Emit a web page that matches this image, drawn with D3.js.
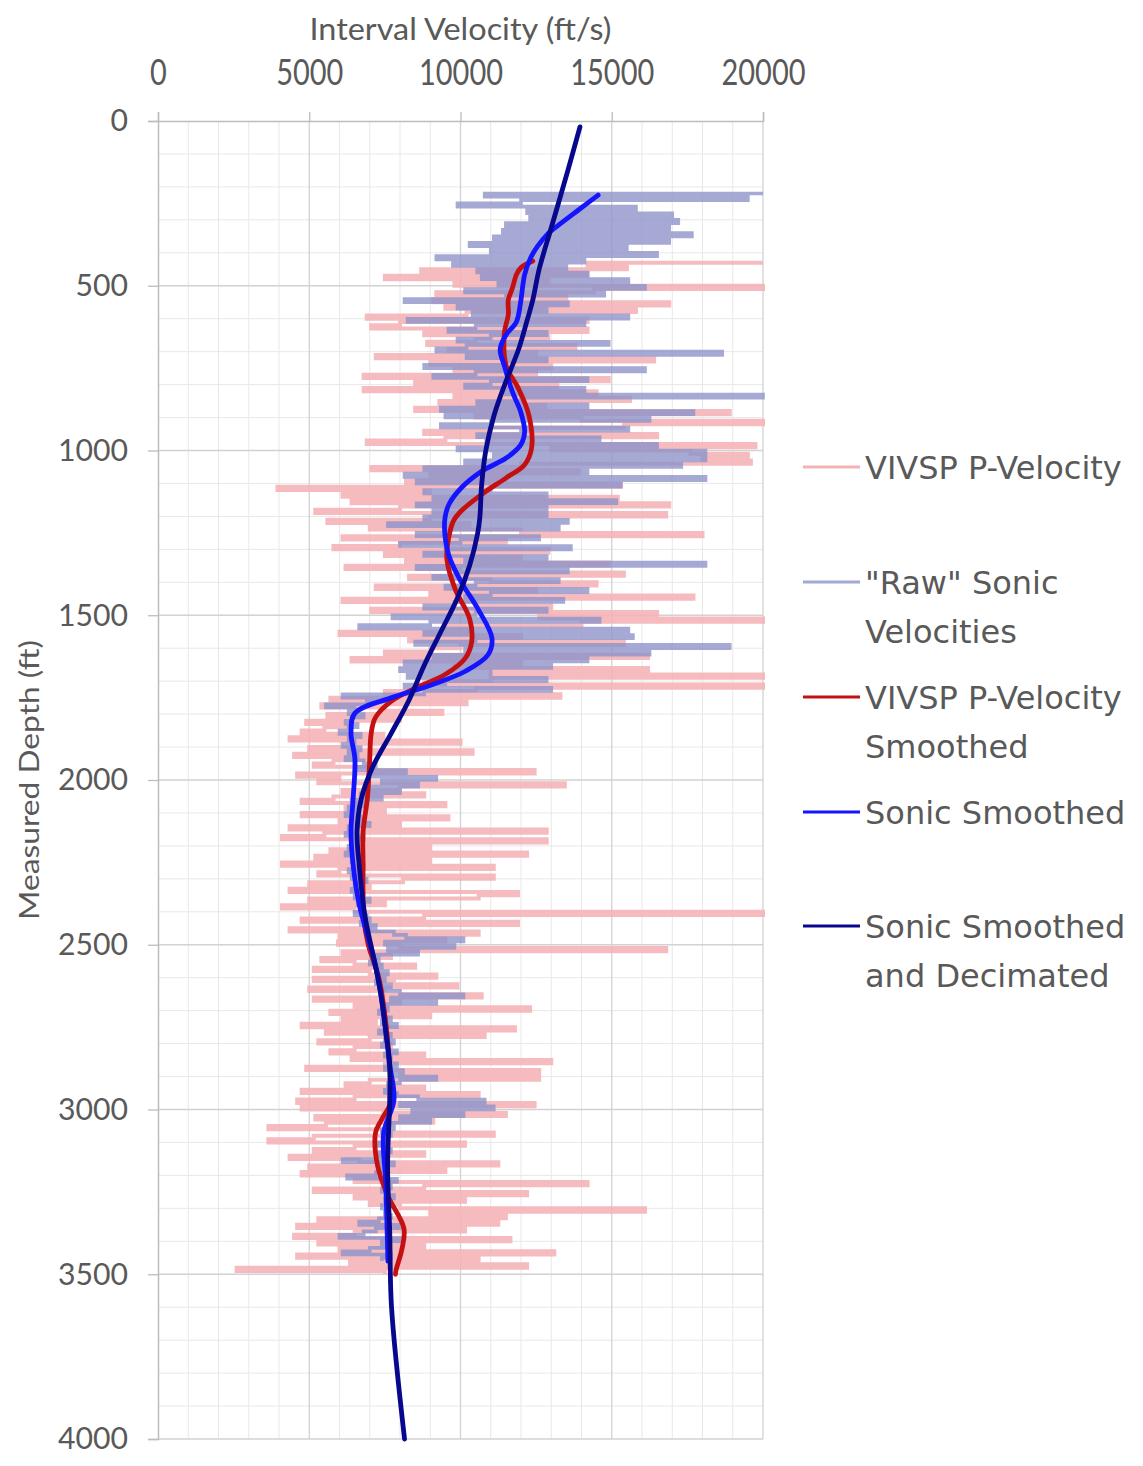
<!DOCTYPE html>
<html>
<head>
<meta charset="utf-8">
<script src="https://cdn.jsdelivr.net/npm/d3@7"></script>
<style>
  body { margin: 0; background: #ffffff; }
  svg { display: block; }
</style>
</head>
<body>
<svg id="chart" width="1143" height="1466"></svg>
<script>
// ---- axis ticks ----
const velocityTicks = [0, 5000, 10000, 15000, 20000];
const depthTicks = [0, 500, 1000, 1500, 2000, 2500, 3000, 3500, 4000];

// ---- raw logs: regularly sampled every 10 ft ----
const sampleStep = 10;
const vivspStartDepth = 430;
const vivspVelocity = [
  20000, 14200, 15500, 8700, 14200, 7500, 12900, 9800, 20000, 14400,
  9200, 13500, 9100, 16900, 9500, 15800, 10200, 6900, 14200, 8000,
  7050, 14200, 8800, 12900, 10500, 8900, 13800, 9600, 12500, 7200,
  16400, 9000, 13000, 9800, 12500, 6800, 14900, 8500, 13200, 6800,
  14500, 9800, 15600, 9300, 12800, 8500, 18900, 10500, 14000, 20000,
  15400, 11000, 8800, 16500, 9500, 6900, 19750, 13000, 17600, 19500,
  18000, 19600, 12000, 7050, 13900, 9000, 11500, 8200, 15300, 3950,
  9000, 6100, 15200, 6400, 16900, 8000, 5200, 16800, 9000, 5600,
  10300, 7000, 12000, 18000, 6100, 11500, 8000, 5800, 12900, 7500,
  12000, 8200, 14900, 6200, 10000, 15400, 8300, 11000, 14500, 7200,
  12500, 9000, 17700, 6100, 10500, 13000, 7050, 16500, 12600, 20000,
  14000, 9500, 10400, 6000, 12000, 8300, 15400, 10000, 9000, 7500,
  16200, 6400, 12000, 9800, 16200, 11000, 20000, 11000, 8800, 20000,
  10500, 7500, 13300, 5700, 10200, 5400, 7500, 9400, 5600, 8000,
  4900, 6400, 5500, 4750, 7450, 4350, 10000, 6500, 5000, 10400,
  4500, 6900, 5800, 5150, 7050, 12450, 4600, 6000, 5300, 13450,
  8000, 6100, 8800, 5800, 4750, 9500, 6200, 7500, 4750, 9600,
  6000, 8000, 4350, 12850, 5500, 4100, 12850, 6500, 9000, 5700,
  12200, 5200, 9000, 4100, 11100, 6000, 5300, 11100, 8100, 5000,
  7000, 4350, 11900, 10600, 5000, 7500, 4100, 6500, 20000, 8800,
  4750, 11900, 7000, 4350, 10600, 6000, 9500, 5950, 8000, 16800,
  6100, 7700, 5400, 6500, 8500, 5150, 7000, 9200, 5150, 7800,
  9900, 5000, 7500, 10700, 5150, 8000, 6500, 12300, 5700, 9000,
  6100, 7200, 4750, 11800, 5550, 10800, 7000, 5300, 7700, 6500,
  5700, 8800, 6400, 13000, 7500, 4900, 12600, 8000, 12600, 7000,
  6200, 8800, 4750, 10600, 6500, 4600, 12450, 4750, 7450, 11500,
  5200, 9100, 5550, 3650, 7450, 11100, 5150, 3650, 10150, 6500,
  5150, 8800, 4350, 6650, 11250, 5000, 9500, 4750, 7500, 6500,
  14200, 8800, 5150, 12200, 6500, 10150, 7000, 8000, 16100, 9000,
  11500, 5300, 11250, 4600, 10150, 6500, 4500, 11650, 5300, 8800,
  6000, 13100, 4600, 10600, 6350, 12200, 2600, 7500
];

const sonicStartDepth = 220;
const sonicVelocity = [
  20000, 10800, 19500, 12000, 9900, 15800, 12200, 17000, 12300, 17200,
  11500, 16900, 11400, 17650, 11100, 16900, 10300, 15500, 11000, 16500,
  9200, 14100, 9750, 13500, 10550, 14200, 10700, 15550, 11250, 16100,
  10150, 14750, 11500, 8150, 13550, 9900, 12850, 10400, 15550, 8250,
  14100, 10500, 9600, 12850, 11000, 9900, 14900, 10200, 9200, 18650,
  10200, 12850, 11500, 8800, 16100, 10500, 9100, 14200, 11000, 10150,
  14100, 11500, 20000, 12000, 10550, 14200, 9350, 17700, 9500, 16250,
  11000, 9350, 15550, 12000, 10550, 14600, 10850, 16500, 9900, 18100,
  11100, 18100, 10150, 17300, 8800, 14200, 8150, 18100, 8550, 15300,
  11000, 8800, 12850, 9100, 15150, 8550, 12850, 9100, 12850, 8800,
  13550, 7600, 13250, 9500, 8550, 12600, 10000, 8000, 13650, 9500,
  8800, 12850, 10150, 18100, 8550, 13550, 9800, 9100, 13250, 10500,
  9500, 14200, 11000, 10150, 13400, 9800, 8800, 12850, 10500, 7750,
  14600, 9000, 6650, 15550, 8800, 15700, 10500, 8500, 18900, 10150,
  16250, 9100, 14200, 8150, 13000, 8000, 11000, 8250, 12850, 9500,
  8150, 13000, 8800, 6100, 7500, 6900, 5550, 6500, 6300, 6800,
  6400, 6200, 6600, 6300, 6000, 6700, 6300, 6500, 6100, 6700,
  6300, 6600, 6200, 6800, 7200, 6500, 8200, 7000, 9200, 7400,
  8600, 7000, 8000, 6700, 7400, 6400, 6800, 6300, 6600, 6200,
  6700, 6400, 7000, 6300, 6500, 6200, 6800, 6400, 6600, 6300,
  6600, 6200, 6700, 6400, 6500, 6800, 6300, 6600, 6400, 6900,
  6500, 6700, 6400, 6800, 6500, 7000, 6600, 6700, 6800, 6500,
  6900, 7000, 6700, 7200, 7000, 7800, 8200, 10100, 7500, 9800,
  7600, 8600, 7100, 7300, 7000, 7400, 7200, 7600, 7300, 7500,
  7200, 7700, 7400, 8000, 10100, 7700, 9200, 7400, 7600, 7300,
  7500, 7700, 7400, 7900, 7500, 7300, 7700, 7500, 7800, 7400,
  7600, 7900, 7500, 7700, 7600, 7900, 7500, 8100, 7700, 9200,
  8000, 7600, 7800, 7500, 7900, 8600, 10800, 8000, 11100, 8400,
  10100, 8000, 9000, 7600, 7800, 7400, 7700, 7500, 7600, 7300,
  7500, 7700, 7300, 7600, 6100, 7800, 7400, 7600, 7200, 6250,
  7900, 7500, 7700, 7400, 7600, 7800, 7500, 7700, 7400, 7600,
  7500, 7700, 7300, 6650, 8000, 7200, 6800, 6000, 8000, 7400,
  7500, 7000, 6100, 7700, 7400
];

// ---- smoothed curves: [depth ft, velocity ft/s] ----
const vivspSmoothed = [
  [425, 12390], [445, 12000], [466, 11850], [507, 11716], [543, 11580], [588, 11580],
  [643, 11450], [743, 11510], [813, 11920], [893, 12260], [993, 12350], [1043, 12120],
  [1083, 11510], [1133, 10700], [1183, 10030], [1215, 9760], [1270, 9600], [1330, 9550],
  [1420, 9820], [1510, 10300], [1580, 10370], [1630, 10160], [1680, 9490], [1720, 8540],
  [1760, 7730], [1810, 7190], [1857, 7050], [1957, 6990], [2057, 6920], [2157, 6780],
  [2257, 6780], [2417, 6800], [2500, 6950], [2600, 7300], [2700, 7480], [2800, 7600],
  [2900, 7680], [2971, 7730], [3031, 7390], [3071, 7190], [3171, 7260], [3261, 7590],
  [3361, 8130], [3421, 8070], [3491, 7860], [3500, 7850]
];

const sonicSmoothed = [
  [225, 14550], [270, 13900], [314, 13270], [344, 12870], [380, 12550], [415, 12320],
  [466, 12120], [548, 11990], [609, 11850], [650, 11500], [693, 11310], [743, 11450],
  [823, 11720], [883, 11990], [943, 12120], [983, 11990], [1023, 11510], [1063, 10700],
  [1113, 10030], [1163, 9620], [1203, 9490], [1250, 9480], [1320, 9620], [1400, 10030],
  [1480, 10570], [1570, 11040], [1620, 10910], [1670, 10160], [1710, 9080], [1750, 7730],
  [1797, 6510], [1857, 6380], [1937, 6510], [2057, 6450], [2157, 6380], [2257, 6450],
  [2377, 6650], [2464, 6900], [2564, 7190], [2664, 7390], [2764, 7530], [2864, 7660],
  [2971, 7800], [3071, 7460], [3221, 7530], [3421, 7590], [3460, 7600]
];

const sonicDecimated = [
  [18, 13950], [150, 13550], [324, 13000], [450, 12600], [543, 12390], [609, 12190],
  [693, 11920], [803, 11450], [893, 11110], [998, 10840], [1103, 10700], [1203, 10640],
  [1250, 10570], [1350, 10300], [1450, 9890], [1550, 9350], [1650, 8810], [1757, 8300],
  [1860, 7700], [1960, 7100], [2057, 6720], [2157, 6580], [2257, 6650], [2417, 6850],
  [2564, 7190], [2664, 7390], [2764, 7530], [2864, 7660], [2971, 7660], [3171, 7590],
  [3371, 7660], [3600, 7720], [4000, 8150]
];

// ---- legend entries ----
const legendLabels = [
  ["VIVSP P-Velocity"],
  ["\"Raw\" Sonic", "Velocities"],
  ["VIVSP P-Velocity", "Smoothed"],
  ["Sonic Smoothed"],
  ["Sonic Smoothed", "and Decimated"]
];
const seriesColors = ["#f4b2b5", "#8f93c9", "#c41010", "#1414ff", "#08088f"];

const svg = d3.select("#chart");
const textColor = "#595959";

const x = d3.scaleLinear().domain([0, 20000]).range([158, 763]);
const y = d3.scaleLinear().domain([0, 4000]).range([121, 1439]);

// ---- grid ----
const grid = svg.append("g");
grid.selectAll("line.vminor")
  .data(d3.range(1000, 20000, 1000).filter(v => v % 5000 !== 0))
  .join("line")
  .attr("x1", d => x(d)).attr("x2", d => x(d))
  .attr("y1", y(0)).attr("y2", y(4000))
  .attr("stroke", "#e8e8e8").attr("stroke-width", 1);
grid.selectAll("line.hminor")
  .data(d3.range(100, 4000, 100).filter(v => v % 500 !== 0))
  .join("line")
  .attr("x1", x(0)).attr("x2", x(20000))
  .attr("y1", d => y(d)).attr("y2", d => y(d))
  .attr("stroke", "#e8e8e8").attr("stroke-width", 1);
grid.selectAll("line.vmajor")
  .data(velocityTicks.slice(1))
  .join("line")
  .attr("x1", d => x(d)).attr("x2", d => x(d))
  .attr("y1", y(0)).attr("y2", y(4000))
  .attr("stroke", "#d2d2d2").attr("stroke-width", 1.3);
grid.selectAll("line.hmajor")
  .data(depthTicks.slice(1))
  .join("line")
  .attr("x1", x(0)).attr("x2", x(20000))
  .attr("y1", d => y(d)).attr("y2", d => y(d))
  .attr("stroke", "#d2d2d2").attr("stroke-width", 1.3);

// ---- axes ----
const topAxis = svg.append("g")
  .attr("transform", `translate(0,${y(0)})`)
  .call(d3.axisTop(x).tickValues(velocityTicks).tickSize(9).tickPadding(27).tickFormat(d3.format("d")));
const leftAxis = svg.append("g")
  .attr("transform", `translate(${x(0)},0)`)
  .call(d3.axisLeft(y).tickValues(depthTicks).tickSize(10).tickPadding(20).tickFormat(d3.format("d")));

[topAxis, leftAxis].forEach(g => {
  g.select(".domain").attr("stroke", "#bdbdbd").attr("stroke-width", 1.5);
  g.selectAll(".tick line").attr("stroke", "#bdbdbd").attr("stroke-width", 1.3);
});
topAxis.selectAll(".tick text")
  .attr("fill", textColor)
  .style("font-family", "Lato, 'Open Sans', sans-serif")
  .style("font-size", "37px")
  .attr("textLength", d => String(d).length * 16.8)
  .attr("lengthAdjust", "spacingAndGlyphs");
leftAxis.selectAll(".tick text")
  .attr("fill", textColor)
  .style("font-family", "Lato, 'Open Sans', sans-serif")
  .style("font-size", "31px")
  .attr("textLength", d => String(d).length * 17.5)
  .attr("lengthAdjust", "spacingAndGlyphs");

// ---- axis titles ----
svg.append("text")
  .attr("x", (x(0) + x(20000)) / 2).attr("y", 40)
  .attr("text-anchor", "middle")
  .attr("fill", textColor)
  .style("font-family", "Lato, 'Open Sans', sans-serif")
  .style("font-size", "30px")
  .attr("textLength", 302).attr("lengthAdjust", "spacingAndGlyphs")
  .text("Interval Velocity (ft/s)");
svg.append("text")
  .attr("transform", `translate(39,${(y(0) + y(4000)) / 2}) rotate(-90)`)
  .attr("text-anchor", "middle")
  .attr("fill", textColor)
  .style("font-family", "Lato, 'Open Sans', sans-serif")
  .style("font-size", "27px")
  .attr("textLength", 280).attr("lengthAdjust", "spacingAndGlyphs")
  .text("Measured Depth (ft)");

// ---- series ----
const plot = svg.append("g");
const rawLine = d3.line().x(p => x(p.v)).y(p => y(p.d)).curve(d3.curveStepAfter);
const smoothLine = d3.line().x(p => x(p[1])).y(p => y(p[0])).curve(d3.curveCatmullRom.alpha(0.5));

const vivspRaw = vivspVelocity.map((v, i) => ({ d: vivspStartDepth + i * sampleStep, v }));
const sonicRaw = sonicVelocity.map((v, i) => ({ d: sonicStartDepth + i * sampleStep, v }));

plot.append("path").datum(vivspRaw)
  .attr("d", rawLine).attr("fill", "none")
  .attr("stroke", seriesColors[0]).attr("stroke-width", 4)
  .attr("stroke-opacity", 0.88);
plot.append("path").datum(sonicRaw)
  .attr("d", rawLine).attr("fill", "none")
  .attr("stroke", seriesColors[1]).attr("stroke-width", 3.6)
  .attr("stroke-opacity", 0.8);

[[vivspSmoothed, seriesColors[2]], [sonicSmoothed, seriesColors[3]], [sonicDecimated, seriesColors[4]]]
  .forEach(([data, color]) => {
    plot.append("path").datum(data)
      .attr("d", smoothLine).attr("fill", "none")
      .attr("stroke", color).attr("stroke-width", 4.8)
      .attr("stroke-linecap", "round").attr("stroke-linejoin", "round");
  });

// ---- legend ----
const legendRows = [467, 582, 697, 812, 926];
const legend = svg.append("g");
legendLabels.forEach((lines, i) => {
  const ly = legendRows[i];
  legend.append("line")
    .attr("x1", 803).attr("x2", 860).attr("y1", ly).attr("y2", ly)
    .attr("stroke", i === 1 ? "#a2a9d4" : seriesColors[i])
    .attr("stroke-width", 3.2);
  const t = legend.append("text")
    .attr("x", 865).attr("y", ly)
    .attr("fill", textColor)
    .style("font-family", "'DejaVu Sans', sans-serif")
    .style("font-size", "32px");
  lines.forEach((s, j) => {
    t.append("tspan").attr("x", 865).attr("y", ly + j * 49).attr("dy", "0.36em").text(s);
  });
});
</script>
</body>
</html>
